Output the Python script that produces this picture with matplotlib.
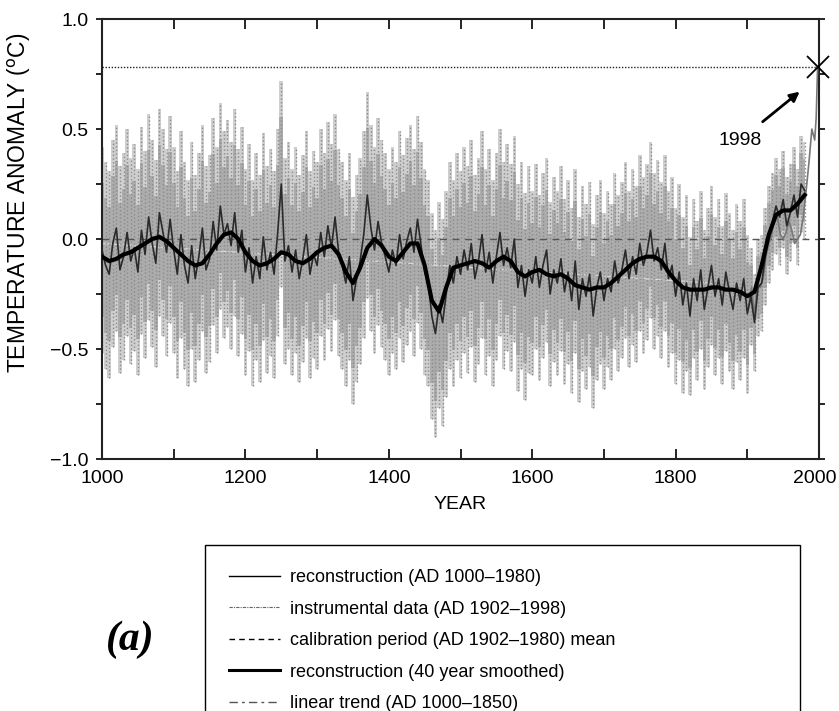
import matplotlib
matplotlib.use("Agg")
import matplotlib.pyplot as plt
import matplotlib.transforms as mtransforms
from matplotlib.lines import Line2D
import numpy as np

plt.rcParams['font.family'] = ['Liberation Sans', 'DejaVu Sans']

# annual reconstruction, sampled every 5 years (AD 1000-1980)
recon_years = np.arange(1000, 1981, 5)
recon = [
    -0.05, -0.12, -0.16, -0.02, 0.05, -0.14, -0.08, 0.03, -0.10, -0.04,
    -0.15, 0.04, -0.07, 0.10, -0.02, -0.11, 0.12, 0.03, -0.06, 0.09,
    -0.05, -0.16, 0.02, -0.12, -0.20, -0.03, -0.18, -0.08, 0.05, -0.14,
    -0.09, 0.08, -0.05, 0.15, 0.02, 0.07, -0.03, 0.12, -0.06, 0.04,
    -0.15, -0.04, -0.20, -0.08, -0.18, 0.01, -0.14, -0.06, -0.16, 0.03,
    0.25, -0.10, -0.03, -0.15, -0.05, -0.18, -0.09, 0.02, -0.16, -0.07,
    -0.12, 0.03, -0.08, 0.06, -0.04, 0.10, -0.06, -0.12, -0.20, -0.08,
    -0.28, -0.18, -0.10, 0.02, 0.20, 0.05, -0.05, 0.08, -0.02, -0.08,
    -0.15, -0.05, -0.12, 0.02, -0.09, -0.01, 0.05, -0.06, 0.09, -0.03,
    -0.15, -0.20, -0.35, -0.43, -0.30, -0.38, -0.25, -0.12, -0.20, -0.08,
    -0.16, -0.05, -0.14, -0.02, -0.18, -0.10, 0.02, -0.15, -0.06, -0.20,
    -0.08, 0.03, -0.12, -0.04, -0.13, 0.00, -0.22, -0.12, -0.26, -0.14,
    -0.20, -0.08, -0.22, -0.12, -0.05, -0.25, -0.14, -0.20, -0.09, -0.24,
    -0.15, -0.28, -0.10, -0.32, -0.18, -0.26, -0.16, -0.35, -0.22, -0.15,
    -0.28, -0.18, -0.24, -0.10, -0.20, -0.14, -0.05, -0.18, -0.08, -0.16,
    -0.02, -0.12, -0.06, 0.04, -0.10, -0.04, -0.14, -0.02, -0.18, -0.12,
    -0.26, -0.15, -0.30, -0.20, -0.35, -0.18, -0.28, -0.14, -0.32, -0.22,
    -0.12, -0.26, -0.18, -0.30, -0.15, -0.24, -0.32, -0.20, -0.28, -0.18,
    -0.34, -0.26, -0.38, -0.22, -0.20, -0.08, 0.02, 0.08, 0.15, 0.10,
    0.18, 0.06, 0.12, 0.20, 0.10, 0.25, 0.22,
]

# 40 year smoothed reconstruction, every 10 years
smooth_years = np.arange(1000, 1981, 10)
smooth = [
    -0.08, -0.10, -0.09, -0.07, -0.06, -0.04, -0.02, 0.00, 0.01, -0.01,
    -0.04, -0.07, -0.10, -0.12, -0.11, -0.07, -0.02, 0.02, 0.03, 0.00,
    -0.06, -0.10, -0.12, -0.11, -0.09, -0.06, -0.07, -0.10, -0.11, -0.09,
    -0.06, -0.04, -0.03, -0.07, -0.15, -0.20, -0.13, -0.04, 0.00, -0.03,
    -0.08, -0.10, -0.06, -0.02, -0.02, -0.12, -0.28, -0.33, -0.22, -0.13,
    -0.12, -0.11, -0.10, -0.11, -0.13, -0.10, -0.08, -0.10, -0.15, -0.17,
    -0.15, -0.14, -0.16, -0.17, -0.16, -0.18, -0.21, -0.22, -0.23, -0.22,
    -0.22, -0.20, -0.17, -0.14, -0.11, -0.09, -0.08, -0.08, -0.10, -0.15,
    -0.19, -0.22, -0.23, -0.23, -0.23, -0.22, -0.22, -0.23, -0.23, -0.24,
    -0.26, -0.24, -0.12, 0.02, 0.11, 0.13, 0.13, 0.16, 0.20,
]

# 2-sigma uncertainty by period
sigma_from = [1000, 1600, 1700, 1820, 1902]
sigma_hw = [0.47, 0.42, 0.40, 0.36, 0.22]

# instrumental data AD 1902-1998
instr_years = [1902, 1906, 1910, 1914, 1918, 1922, 1926, 1930, 1934, 1938,
               1942, 1946, 1950, 1954, 1958, 1962, 1966, 1970, 1974, 1978,
               1982, 1986, 1990, 1994, 1996, 1998]
instr = [-0.30, -0.22, -0.35, -0.20, -0.22, -0.18, -0.08, -0.02, 0.02, 0.12,
         0.10, 0.02, 0.00, 0.03, 0.08, 0.04, -0.02, 0.00, 0.02, 0.10,
         0.22, 0.35, 0.50, 0.45, 0.55, 0.78]

trend_years = [1000, 1850]
trend = [-0.02, -0.20]
calib_mean = 0.0
peak_1998 = 0.78

recon = np.array(recon)
hw = np.array(sigma_hw)[np.searchsorted(sigma_from, recon_years, side='right') - 1]
upper = recon + hw
lower = recon - hw

fig = plt.figure(figsize=(8.39, 7.11), dpi=100)
ax = fig.add_axes([0.1216, 0.3544, 0.8546, 0.6188])

# uncertainty band: lighter at the edges, denser near the middle
ax.fill_between(recon_years, lower, upper, step='mid', color='#cfcfcf', lw=0, zorder=1)
ax.fill_between(recon_years, recon - 0.65 * hw, recon + 0.65 * hw, step='mid',
                color='#acacac', lw=0, zorder=1.1)
ax.vlines(recon_years, lower, upper, colors='#8a8a8a', linestyles=':', lw=1.0, zorder=1.5)

ax.axhline(calib_mean, color='#555555', ls=(0, (5, 4)), lw=1.0, zorder=2)
ax.plot(trend_years, trend, color='#dddddd', ls='-.', lw=0.8, zorder=1.2)
ax.plot(instr_years, instr, color='#777777', lw=1.2, zorder=3)
ax.plot(recon_years, recon, color='#2a2a2a', lw=1.2, zorder=4)
ax.plot(smooth_years, smooth, color='black', lw=3.0, zorder=5)

ax.plot([1000, 1998], [peak_1998, peak_1998], color='#222222', ls=(0, (1, 1.2)), lw=1.0, zorder=3)
ax.plot([1998], [peak_1998], marker='x', ms=16, mew=1.3, color='black', zorder=6, clip_on=False)
ax.annotate('1998', xy=(1973, 0.67), xytext=(1890, 0.45), ha='center', va='center',
            fontsize=14, arrowprops=dict(arrowstyle='-|>', color='black', lw=2, mutation_scale=14,
                                         shrinkA=8, shrinkB=0))

ax.set_xlim(1000, 2000)
ax.set_ylim(-1.0, 1.0)
ax.set_xticks([1000, 1200, 1400, 1600, 1800, 2000])
ax.set_xticks(np.arange(1100, 2000, 200), minor=True)
ax.set_yticks([-1.0, -0.5, 0.0, 0.5, 1.0])
ax.set_yticks([-0.75, -0.25, 0.25, 0.75], minor=True)
ax.set_yticklabels(['\u22121.0', '\u22120.5', '0.0', '0.5', '1.0'])
ax.tick_params(axis='x', which='both', direction='in', top=True, length=7, width=1.2,
               labelsize=14, pad=8)
ax.tick_params(axis='y', which='both', direction='out', right=True, length=4, width=1.2,
               labelsize=14, pad=6)
for s in ax.spines.values():
    s.set_linewidth(1.5)
    s.set_color('#222222')
ax.set_xlabel('YEAR', fontsize=14)
ax.xaxis.set_label_coords(0.5, -0.083)
ax.set_ylabel('TEMPERATURE ANOMALY ($^{\\rm o}$C)', fontsize=16.5)
ax.yaxis.set_label_coords(-0.096, 0.582)

# nudge the "2000" label so it stays inside the figure
last = ax.get_xticklabels()[-1]
last.set_transform(last.get_transform() + mtransforms.ScaledTranslation(-4 / 100, 0, fig.dpi_scale_trans))

handles = [
    Line2D([], [], color='black', lw=1.0),
    Line2D([], [], color='#666666', lw=0.8, ls=(0, (3, 1, 1, 1))),
    Line2D([], [], color='black', lw=1.0, ls=(0, (4, 3))),
    Line2D([], [], color='black', lw=2.2),
    Line2D([], [], color='#555555', lw=1.0, ls=(0, (6, 3, 2, 3))),
]
labels = ['reconstruction (AD 1000\u20131980)',
          'instrumental data (AD 1902\u20131998)',
          'calibration period (AD 1902\u20131980) mean',
          'reconstruction (40 year smoothed)',
          'linear trend (AD 1000\u20131850)']
leg = fig.legend(handles, labels, loc='upper left', bbox_to_anchor=(0.244, -0.1, 0.71, 0.3335),
                 mode='expand', fontsize=13, handlelength=2.8, handletextpad=0.55,
                 labelspacing=0.8, borderpad=1.35, fancybox=False, edgecolor='black',
                 framealpha=1, borderaxespad=0)
leg.get_frame().set_linewidth(1.0)

fig.text(0.155, 0.1, '(a)', fontsize=30, style='italic', weight='bold',
         family='Liberation Serif', ha='center', va='center')

fig.savefig('out.png', dpi=100)
